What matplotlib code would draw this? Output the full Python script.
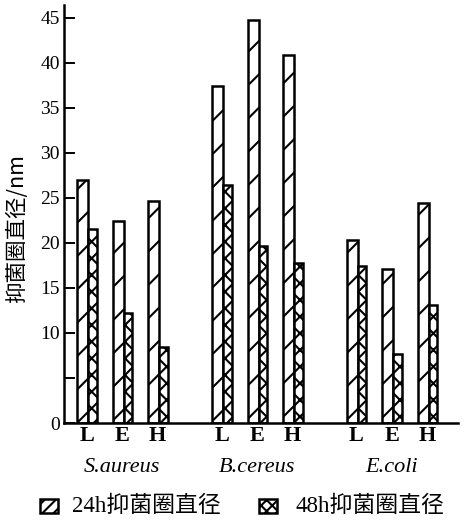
import matplotlib
matplotlib.use("Agg")
import matplotlib.pyplot as plt
from matplotlib.patches import Rectangle

# 数据
species = ["S.aureus", "B.cereus", "E.coli"]
extracts = ["L", "E", "H"]
zone_24h = [[27.0, 22.4, 24.6],
            [37.4, 44.7, 40.8],
            [20.3, 17.1, 24.4]]
zone_48h = [[21.5, 12.2, 8.4],
            [26.4, 19.7, 17.8],
            [17.4, 7.7, 13.1]]
yticks = [0, 5, 10, 15, 20, 25, 30, 35, 40, 45]
ytick_labels = ["0", "", "10", "15", "20", "25", "30", "35", "40", "45"]

plt.rcParams["hatch.linewidth"] = 1.5
serif = ["Liberation Serif", "Noto Sans CJK SC"]
cjk = ["Noto Sans CJK SC", "Liberation Serif"]

fig = plt.figure(figsize=(4.68, 5.28), dpi=100)
ax = fig.add_axes([64 / 468, 1 - 423 / 528, (458 - 64) / 468, 418 / 528])

w24, w48 = 0.31, 0.24
group_step = 3.8
tick_pos = []
tick_lab = []
for g, sp in enumerate(species):
    for i, ex in enumerate(extracts):
        x = g * group_step + i
        ax.bar(x, zone_24h[g][i], width=w24, align="edge", facecolor="white",
               edgecolor="black", linewidth=1.8, hatch="/")
        ax.bar(x + w24, zone_48h[g][i], width=w48, align="edge", facecolor="white",
               edgecolor="black", linewidth=1.8, hatch="xx")
        tick_pos.append(x + 0.27)
        tick_lab.append(ex)
    ax.text(g * group_step + 1 + 0.27, -0.107, sp, transform=ax.get_xaxis_transform(),
            ha="center", va="center", fontsize=16, style="italic", family=serif)

ax.set_xlim(-0.37, 10.73)
ax.set_ylim(0, 46.4)
ax.set_yticks(yticks)
ax.set_yticklabels(ytick_labels, family=serif, fontsize=14)
ax.set_xticks(tick_pos)
ax.set_xticklabels(tick_lab, family=serif, fontsize=16, fontweight="bold")
ax.tick_params(axis="y", direction="in", length=8, width=1.4, pad=3)
ax.tick_params(axis="x", length=0, pad=2)
for s in ["top", "right"]:
    ax.spines[s].set_visible(False)
ax.spines["left"].set_linewidth(1.8)
ax.spines["bottom"].set_linewidth(1.8)

fig.text(17 / 468, 1 - 228 / 528, "抑菌圈直径/nm", rotation=90, ha="center", va="center",
         fontsize=15.5, family=cjk)

# 图例
fig.patches.append(Rectangle((40 / 468, 1 - 513 / 528), 18 / 468, 14 / 528,
                             transform=fig.transFigure, facecolor="white",
                             edgecolor="black", linewidth=1.8, hatch="///"))
fig.text(72 / 468, 1 - 506 / 528, "24h抑菌圈直径", ha="left", va="center",
         fontsize=16.5, family=serif)
fig.patches.append(Rectangle((259 / 468, 1 - 513 / 528), 18 / 468, 14 / 528,
                             transform=fig.transFigure, facecolor="white",
                             edgecolor="black", linewidth=1.8, hatch="xxx"))
fig.text(295 / 468, 1 - 506 / 528, "48h抑菌圈直径", ha="left", va="center",
         fontsize=16.5, family=serif)

fig.savefig("out.png", dpi=100)
